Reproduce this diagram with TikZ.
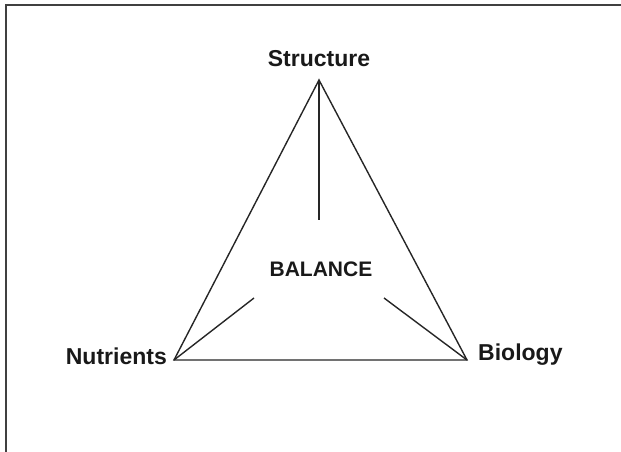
\documentclass[tikz,border=0pt]{standalone}
\usepackage{fontspec}
\setmainfont{Liberation Sans}
\begin{document}
\begin{tikzpicture}[x=1pt,y=-1pt,
  lbl/.style={font=\fontsize{23}{26}\selectfont\bfseries, inner sep=0pt, text=black!90},
  edge/.style={line width=1.4pt, black!85}]
\useasboundingbox (0,0) rectangle (621,452);
\draw[line width=2pt, black!75] (6,452) -- (6,5) -- (621,5);
\coordinate (S) at (319,80);
\coordinate (N) at (174,360);
\coordinate (B) at (467,360);
\coordinate (s2) at (319,220);
\coordinate (n2) at (254,298);
\coordinate (b2) at (384,298);
\draw[edge, line join=miter] (S) -- (N) -- (B) -- cycle;
\draw[edge] (S) -- (s2);
\draw[edge] (N) -- (n2);
\draw[edge] (B) -- (b2);
\node[lbl] (ts) at (319,59) {Structure};
\node[lbl, anchor=east] (tn) at (167,356) {Nutrients};
\node[lbl, anchor=west] (tb) at (478,355) {Biology};
\node[lbl, font=\fontsize{21}{24}\selectfont\bfseries] (tc) at (321,269) {BALANCE};
\end{tikzpicture}
\end{document}
